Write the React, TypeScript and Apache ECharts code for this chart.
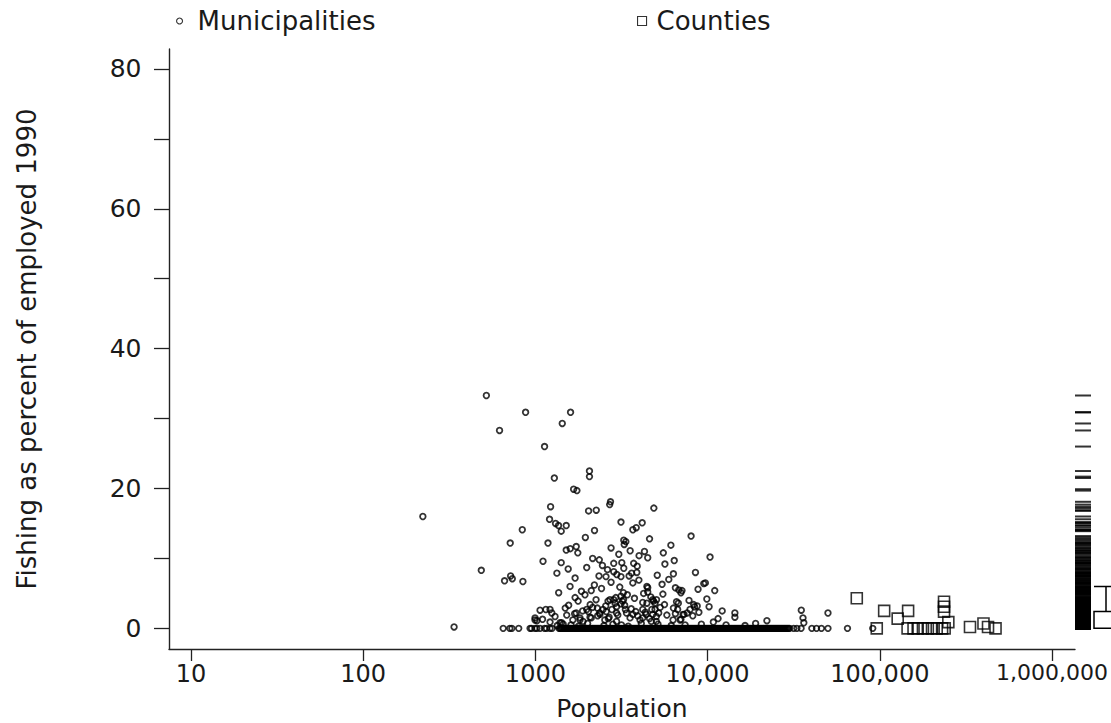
import React, { useEffect, useRef } from "react";
import * as echarts from "echarts";

// Tick values
const xTickValues = [10, 100, 1000, 10000, 100000, 1000000];
const yTickStep = 10;
const yLabelStep = 20;

// Municipalities with a positive fishing share: [population, percent employed in fishing]
const municipalitiesPositive: [number, number][] = [
  [222, 16.0], [337, 0.2], [485, 8.3], [519, 33.3], [619, 28.3], [662, 6.8], [714, 12.2], [718, 7.5],
  [734, 7.1], [839, 14.1], [846, 6.7], [877, 30.9], [995, 1.5], [995, 1.2], [1020, 1.1], [1064, 2.6],
  [1100, 1.3], [1107, 9.6], [1130, 26.0], [1150, 2.7], [1183, 12.2], [1208, 15.6], [1216, 2.7], [1216, 0.9],
  [1225, 17.4], [1245, 2.2], [1288, 21.5], [1300, 1.7], [1309, 15.0], [1333, 7.9], [1362, 14.7], [1365, 5.1],
  [1390, 0.8], [1412, 13.9], [1412, 9.4], [1420, 0.8], [1432, 29.3], [1490, 2.9], [1510, 14.7], [1510, 11.2],
  [1589, 6.0], [1593, 11.4], [1600, 30.9], [1650, 1.2], [1667, 19.9], [1690, 2.1], [1725, 2.2], [1726, 11.7],
  [1742, 19.7], [1763, 10.8], [1770, 3.9], [1815, 1.2], [1815, 1.5], [1850, 5.3], [1890, 1.0], [1985, 2.7],
  [1986, 8.7], [2030, 2.4], [2036, 16.8], [2060, 22.5], [2060, 21.7], [2075, 1.6], [2080, 3.4], [2110, 5.4],
  [2110, 1.5], [2204, 14.0], [2250, 4.1], [2256, 16.9], [2290, 2.9], [2340, 7.5], [2350, 9.8], [2360, 2.2],
  [2370, 2.0], [2470, 2.7], [2530, 1.2], [2570, 7.4], [2580, 2.4], [2622, 8.4], [2640, 3.9], [2680, 1.6],
  [2700, 17.7], [2710, 4.1], [2729, 18.1], [2780, 2.7], [2850, 9.3], [2850, 4.1], [2900, 3.6], [2960, 3.1],
  [2960, 1.0], [2960, 2.2], [2970, 7.7], [3140, 15.2], [3140, 7.4], [3140, 3.5], [3140, 4.6], [3175, 9.4],
  [3200, 3.9], [3240, 5.1], [3250, 4.1], [3260, 12.6], [3260, 8.6], [3280, 12.0], [3330, 2.7], [3380, 2.2],
  [3500, 7.5], [3545, 1.5], [3620, 7.9], [3680, 14.1], [3680, 6.5], [3680, 2.0], [3720, 9.3], [3830, 2.4],
  [3850, 14.4], [3880, 8.0], [4050, 1.2], [4170, 15.1], [4200, 3.7], [4200, 2.7], [4200, 1.5], [4298, 11.0],
  [4400, 2.0], [4440, 6.0], [4440, 3.6], [4490, 10.1], [4490, 5.8], [4490, 5.2], [4710, 1.0], [4740, 2.7],
  [4800, 4.1], [4800, 2.0], [4850, 3.9], [4873, 17.2], [4950, 2.7], [4950, 3.6], [5040, 1.7], [5040, 1.0],
  [5050, 4.1], [5200, 2.2], [5440, 6.3], [5530, 10.8], [5620, 3.4], [6120, 11.9], [6300, 1.2], [6330, 7.8],
  [6330, 2.9], [6500, 5.8], [6500, 2.1], [6700, 2.7], [6760, 3.6], [6800, 5.5], [6920, 1.2], [7000, 5.1],
  [7000, 1.3], [7100, 5.4], [7200, 2.0], [7300, 2.0], [7600, 2.2], [7900, 2.7], [8017, 13.2], [8300, 3.4],
  [8400, 3.1], [8500, 8.0], [8700, 3.2], [8800, 5.6], [9500, 6.4], [9700, 6.5], [10200, 3.1], [10330, 10.2],
  [11000, 5.4], [12150, 2.5], [14400, 2.2], [14400, 1.6], [22100, 1.1], [35000, 2.6], [35800, 1.5], [36200, 0.8],
  [50000, 2.2],
];

// Further municipalities inside the dense low cluster: [population, percent]
const municipalitiesCluster: [number, number][] = [
  [1340, 0.4], [1450, 0.6], [1520, 1.9], [1560, 3.3], [1610, 0.5], [1700, 4.4], [1780, 0.3], [1880, 2.5],
  [1940, 4.8], [2010, 0.7], [2150, 3.0], [2200, 6.2], [2300, 1.8], [2420, 5.7], [2500, 0.4], [2560, 3.2],
  [2650, 1.4], [2750, 6.6], [2820, 0.6], [2930, 4.4], [3010, 1.9], [3090, 5.9], [3160, 0.5], [3300, 3.3],
  [3420, 4.8], [3460, 0.3], [3600, 2.8], [3760, 4.3], [3920, 1.8], [3990, 6.9], [4120, 0.7], [4250, 5.0],
  [4350, 2.3], [4600, 1.4], [4680, 4.5], [5150, 0.6], [5300, 3.0], [5500, 4.9], [5800, 1.9], [5950, 7.0],
  [6150, 0.4], [6600, 3.8], [7400, 0.5], [7800, 4.0], [8200, 1.8], [8900, 2.3], [9200, 0.6], [9900, 4.2],
  [10800, 0.9], [11500, 1.4], [12800, 0.5], [16500, 0.4], [19000, 0.7],
  [1700, 7.2], [2450, 9.0], [3050, 10.6], [3900, 8.9], [4600, 12.8], [5100, 7.6], [2150, 10.0], [2750, 11.5],
  [3350, 12.4], [1950, 13.0], [6400, 9.7], [4000, 10.4], [2850, 8.1], [5650, 9.2], [1550, 8.5], [3550, 11.1],
];

// Municipalities with no fishing employment (percent = 0): populations
const municipalitiesZeroPop: number[] = [
  650, 710, 730, 800, 931, 950, 995, 1020, 1064, 1130, 1160, 1216, 1250, 1370,
  1390, 1425, 1460, 1500, 1540, 1580, 1620, 1665, 1710, 1755, 1800, 1850, 1900, 1950, 2000, 2055,
  2110, 2165, 2225, 2285, 2345, 2410, 2475, 2540, 2610, 2680, 2750, 2825, 2900, 2980, 3060, 3140,
  3225, 3310, 3400, 3490, 3585, 3680, 3780, 3880, 3985, 4090, 4200, 4315, 4430, 4550, 4670, 4795,
  4925, 5055, 5190, 5330, 5475, 5620, 5770, 5925, 6085, 6250, 6415, 6590, 6765, 6950, 7135, 7325,
  7525, 7725, 7935, 8145, 8365, 8590, 8820, 9060, 9300, 9550, 9810, 10070, 10340, 10620, 10910, 11200,
  11500, 11810, 12130, 12450, 12790, 13130, 13490, 13850, 14220, 14600, 15000, 15400, 15810, 16240, 16680, 17130,
  17590, 18060, 18550, 19050, 19560, 20090, 20630, 21180, 21750, 22340, 22940, 23560, 24190, 24850, 25520, 26200,
  26910, 27640, 28380, 29150, 29930, 31600, 33000, 34900, 40300, 42900, 45800, 50000, 64900, 91000,
  1405, 1442, 1480, 1520, 1560, 1600, 1642, 1688, 1732, 1778, 1825, 1875, 1925, 1975, 2028, 2082,
  2138, 2195, 2255, 2315, 2378, 2442, 2508, 2575, 2645, 2715, 2788, 2862, 2940, 3020, 3100, 3182,
  3268, 3355, 3445, 3538, 3632, 3730, 3830, 3932, 4038, 4145, 4258, 4372, 4490, 4610, 4732, 4860,
  4990, 5122, 5260, 5402, 5548, 5695, 5848, 6005, 6168, 6332, 6502, 6678, 6858, 7042, 7230, 7425,
  7625, 7830, 8040, 8255, 8478, 8705, 8940, 9180, 9425, 9680, 9940, 10205, 10480, 10765, 11055, 11350,
  11655, 11970, 12290, 12620, 12960, 13310, 13670, 14035, 14410, 14800, 15200, 15605, 16025, 16460, 16905, 17360,
  17825, 18305, 18800, 19305, 19825, 20360, 20905, 21465, 22045, 22640, 23250, 23875, 24520, 25185, 25860, 26555,
  27275, 28010, 28765, 29540,
];

// Counties: [population, percent]
const counties: [number, number][] = [
  [73500, 4.3], [96000, 0], [106000, 2.5], [127000, 1.4], [145000, 0], [146000, 2.5], [157000, 0],
  [166000, 0], [178000, 0], [190000, 0], [201000, 0], [214000, 0], [230000, 0], [236000, 3.8],
  [236000, 3.1], [236000, 2.4], [238000, 0], [250000, 0.9], [334000, 0.2], [400000, 0.7], [425000, 0.2],
  [470000, 0],
];

// Box plot of the fishing share (min, Q1, median, Q3, upper whisker)
const boxStats = [0, 0, 0, 2.4, 6.0];

const FONT = "DejaVu Sans";
const INK = "#1a1a1a";
const AXIS = "#222";

export default function App() {
  const ref = useRef<HTMLDivElement>(null);

  useEffect(() => {
    if (!ref.current) return;
    const chart = echarts.init(ref.current, undefined, { renderer: "svg" });

    const yMin = -2.95;
    const yMax = 82.85;
    const top = 49;
    const height = 600;
    const pxPerUnit = height / (yMax - yMin);
    const zeroY = top + height - (0 - yMin) * pxPerUnit;
    const eightyY = zeroY - 80 * pxPerUnit;

    const municipalities = [
      ...municipalitiesPositive,
      ...municipalitiesCluster,
      ...municipalitiesZeroPop.map((p) => [p, 0] as [number, number]),
    ];
    const rugData = [...municipalities, ...counties].map((d) => [0.5, d[1]]);

    const gridBase = { containLabel: false, outerBoundsMode: "none" };
    const maxTick = xTickValues[xTickValues.length - 1];

    const option: any = {
      animation: false,
      textStyle: { fontFamily: FONT, color: INK },
      legend: [
        {
          data: [{ name: "Municipalities", icon: "circle" }],
          left: 176,
          top: 8,
          padding: 0,
          itemWidth: 6,
          itemHeight: 6,
          selectedMode: false,
          itemStyle: { color: "rgba(0,0,0,0)", borderColor: "#000", borderWidth: 1.1 },
          textStyle: { fontFamily: FONT, fontSize: 26, color: INK, padding: [0, 0, 0, 10] },
        },
        {
          data: [{ name: "Counties", icon: "rect" }],
          left: 637,
          top: 8,
          padding: 0,
          itemWidth: 9,
          itemHeight: 9,
          selectedMode: false,
          itemStyle: { color: "rgba(0,0,0,0)", borderColor: "#000", borderWidth: 1.1 },
          textStyle: { fontFamily: FONT, fontSize: 26, color: INK, padding: [0, 0, 0, 5] },
        },
      ],
      grid: [
        { ...gridBase, left: 169, top, width: 906, height },
        { ...gridBase, left: 191, top, width: 861, height },
        { ...gridBase, left: 169, top: eightyY, width: 906, height: zeroY - eightyY },
        { ...gridBase, left: 1075, top, width: 16, height },
        { ...gridBase, left: 1094, top, width: 24, height },
      ],
      xAxis: [
        {
          gridIndex: 0,
          type: "log",
          logBase: 10,
          min: 7.45,
          max: 1360000,
          axisLine: { show: true, onZero: false, lineStyle: { color: AXIS, width: 1.4 } },
          axisTick: { show: false },
          axisLabel: { show: false },
          splitLine: { show: false },
          name: "Population",
          nameLocation: "middle",
          nameGap: 47,
          nameTextStyle: { fontFamily: FONT, fontSize: 25, color: INK },
        },
        {
          gridIndex: 1,
          type: "log",
          logBase: 10,
          min: xTickValues[0],
          max: maxTick,
          axisLine: { show: false, onZero: false },
          axisTick: { show: true, length: 12, lineStyle: { color: AXIS, width: 1.3 } },
          axisLabel: {
            show: true,
            margin: 12.5,
            fontFamily: FONT,
            fontSize: 24,
            color: INK,
            formatter: (v: number) => {
              const r = Math.round(v);
              if (r === 1000) return "1000";
              const s = r.toLocaleString("en-US");
              return r === maxTick ? `{s|${s}}` : s;
            },
            rich: { s: { fontFamily: FONT, fontSize: 22, color: INK } },
          },
          splitLine: { show: false },
          minorTick: { show: false },
        },
        { gridIndex: 2, type: "value", show: false, min: 0, max: 1, axisLine: { onZero: false } },
        { gridIndex: 3, type: "value", show: false, min: 0, max: 1, axisLine: { onZero: false } },
        { gridIndex: 4, type: "category", show: false, data: ["share"], axisLine: { onZero: false } },
      ],
      yAxis: [
        {
          gridIndex: 0,
          type: "value",
          min: yMin,
          max: yMax,
          axisLine: { show: true, onZero: false, lineStyle: { color: AXIS, width: 1.4 } },
          axisTick: { show: false },
          axisLabel: { show: false },
          splitLine: { show: false },
          name: "Fishing as percent of employed 1990",
          nameLocation: "middle",
          nameGap: 129,
          nameTextStyle: { fontFamily: FONT, fontSize: 26, color: INK },
        },
        { gridIndex: 1, type: "value", show: false, min: 0, max: 1, axisLine: { onZero: false } },
        {
          gridIndex: 2,
          type: "value",
          min: 0,
          max: 80,
          interval: yTickStep,
          axisLine: { show: false, onZero: false },
          axisTick: { show: true, length: 15, lineStyle: { color: AXIS, width: 1.3 } },
          axisLabel: {
            show: true,
            margin: 27.5,
            fontFamily: FONT,
            fontSize: 25,
            color: INK,
            formatter: (v: number) => (Math.round(v) % yLabelStep === 0 ? String(Math.round(v)) : ""),
          },
          splitLine: { show: false },
        },
        { gridIndex: 3, type: "value", show: false, min: yMin, max: yMax, axisLine: { onZero: false } },
        { gridIndex: 4, type: "value", show: false, min: yMin, max: yMax, axisLine: { onZero: false } },
      ],
      series: [
        {
          name: "Municipalities",
          type: "scatter",
          xAxisIndex: 0,
          yAxisIndex: 0,
          symbol: "circle",
          symbolSize: 5.6,
          itemStyle: { color: "rgba(0,0,0,0)", borderColor: "#000", borderWidth: 1.8 },
          silent: true,
          data: municipalities,
        },
        {
          name: "Counties",
          type: "scatter",
          xAxisIndex: 0,
          yAxisIndex: 0,
          symbol: "rect",
          symbolSize: 11,
          itemStyle: { color: "rgba(0,0,0,0)", borderColor: "#000", borderWidth: 1.6 },
          silent: true,
          data: counties,
        },
        {
          name: "rug",
          type: "scatter",
          xAxisIndex: 3,
          yAxisIndex: 3,
          symbol: "rect",
          symbolSize: [16, 2],
          itemStyle: { color: "#000" },
          silent: true,
          data: rugData,
        },
        {
          name: "box",
          type: "boxplot",
          xAxisIndex: 4,
          yAxisIndex: 4,
          boxWidth: [24, 24],
          itemStyle: { color: "#fff", borderColor: "#000", borderWidth: 1.5 },
          silent: true,
          data: [boxStats],
        },
      ],
    };

    chart.setOption(option);
    return () => chart.dispose();
  }, []);

  return (
    <div
      ref={ref}
      style={{ position: "absolute", left: 0, top: 0, width: 1111, height: 723, background: "#fff" }}
    />
  );
}
